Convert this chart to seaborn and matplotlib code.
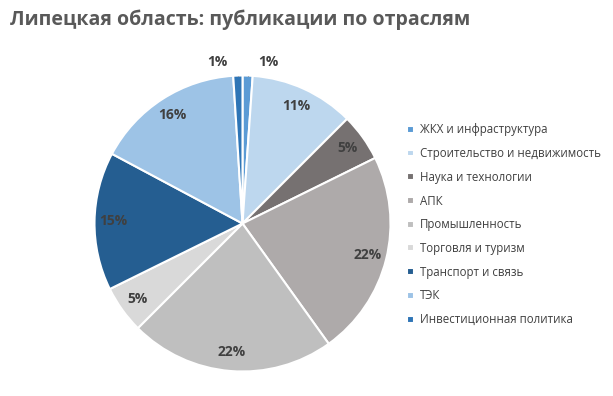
import numpy as np
import matplotlib
matplotlib.use("Agg")
import matplotlib.pyplot as plt
import seaborn as sns

# data
sectors = ["ЖКХ и инфраструктура", "Строительство и недвижимость", "Наука и технологии",
           "АПК", "Промышленность", "Торговля и туризм", "Транспорт и связь", "ТЭК",
           "Инвестиционная политика"]
shares = [1.1, 11.4, 5.2, 22.4, 22.4, 5.2, 15.1, 16.2, 1.0]
colors = ["#5b9bd5", "#bdd7ee", "#767171", "#aeaaaa", "#bfbfbf", "#d9d9d9",
          "#255e91", "#9dc3e6", "#2e75b6"]

sns.set_theme(style="white")
plt.rcParams['font.family'] = ['Open Sans', 'DejaVu Sans']

fig = plt.figure(figsize=(6.13, 3.96), dpi=100)
ax = fig.add_axes([94.5 / 613, 24.5 / 396, 296 / 613, 296 / 396])

wedges, texts, autotexts = ax.pie(
    shares, colors=colors, startangle=90, counterclock=False,
    autopct='%.0f%%', pctdistance=0.87,
    wedgeprops=dict(edgecolor='white', linewidth=1.5),
    textprops=dict(color='#404040', fontsize=10, fontweight='bold'))
ax.set_aspect('equal')

# small slices get outside labels with leader lines
for i, side in [(0, 1), (len(shares) - 1, -1)]:
    w = wedges[i]
    autotexts[i].set_visible(False)
    ang = np.deg2rad((w.theta1 + w.theta2) / 2)
    x0, y0 = np.cos(ang), np.sin(ang)
    ax.plot([x0, x0, x0 + side * 0.05], [y0, 1.09, 1.09], color='#a6a6a6', lw=0.8)
    ax.text(x0 + side * 0.07, 1.09, f"{shares[i]:.0f}%", ha='left' if side > 0 else 'right',
            va='center', color='#404040', fontsize=10, fontweight='bold')

ax.set_xlim(-1, 1)
ax.set_ylim(-1, 1)

fig.text(10 / 613, 1 - 20 / 396, "Липецкая область: публикации по отраслям",
         fontsize=14, fontweight='bold', color='#595959', va='center', ha='left')

fig.legend(wedges, sectors, loc='upper left', bbox_to_anchor=(397 / 613, 1 - 113 / 396),
           frameon=False, fontsize=8.3, handlelength=0.55, handleheight=0.55,
           handletextpad=0.55, labelspacing=0.93, labelcolor='#404040')

fig.savefig("out.png", dpi=100)
